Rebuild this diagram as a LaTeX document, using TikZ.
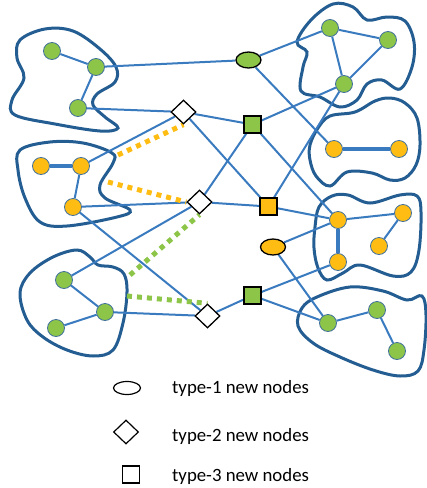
\documentclass[tikz,border=0pt]{standalone}
\usepackage{fontspec}
\setmainfont{Carlito}
\usetikzlibrary{shapes.geometric, backgrounds}
\definecolor{edgeblue}{HTML}{3A7BBF}
\definecolor{blobblue}{HTML}{245D92}
\definecolor{nodeline}{HTML}{41719C}
\definecolor{ngreen}{HTML}{8DC549}
\definecolor{norange}{HTML}{FFBD14}
\begin{document}
\begin{tikzpicture}[x=1pt, y=-1pt,
	vtx/.style = {circle, draw=nodeline, line width=0.8pt, minimum size=17pt, inner sep=0pt},
	gv/.style = {vtx, fill=ngreen},
	ov/.style = {vtx, fill=norange},
	oval/.style = {ellipse, draw=black, line width=1.3pt, minimum width=25pt, minimum height=16pt, inner sep=0pt},
	dia/.style = {diamond, draw=black, fill=white, line width=1.3pt, minimum width=25pt, minimum height=24pt, inner sep=0pt},
	sqr/.style = {rectangle, draw=black, line width=1.3pt, minimum size=17pt, inner sep=0pt},
	edge/.style = {draw=edgeblue, line width=2pt},
	bigedge/.style = {draw=edgeblue, line width=4pt},
	blob/.style = {draw=blobblue, line width=3pt},
	odots/.style = {draw=norange, line width=5pt, dash pattern=on 5pt off 5pt},
	gdots/.style = {draw=ngreen, line width=5pt, dash pattern=on 5pt off 5pt},
	legtext/.style = {anchor=base west, inner sep=0pt, font=\fontsize{18.8}{21}\selectfont}]
	\useasboundingbox (0,0) rectangle (427,488);

	% original nodes
	\node[gv] (a1) at (52,51) {};
	\node[gv] (a2) at (96,67) {};
	\node[gv] (a3) at (78,108) {};
	\node[ov] (b1) at (41,166) {};
	\node[ov] (b2) at (81,166) {};
	\node[ov] (b3) at (73,207) {};
	\node[gv] (c1) at (64,280) {};
	\node[gv] (c2) at (105,312) {};
	\node[gv] (c3) at (56,328) {};
	\node[gv] (d1) at (330,28) {};
	\node[gv] (d2) at (388,40) {};
	\node[gv] (d3) at (344,84) {};
	\node[ov] (e1) at (334,149) {};
	\node[ov] (e2) at (399,149) {};
	\node[ov] (f1) at (338,220) {};
	\node[ov] (f2) at (403,213) {};
	\node[ov] (f3) at (379,246) {};
	\node[ov] (f4) at (338,262) {};
	\node[gv] (g1) at (328,323) {};
	\node[gv] (g2) at (377,310) {};
	\node[gv] (g3) at (397,351) {};

	% new nodes
	\node[oval, fill=ngreen] (el1) at (248.5,60) {};
	\node[oval, fill=norange] (el2) at (273,247) {};
	\node[dia] (dm1) at (183.5,112) {};
	\node[dia] (dm2) at (199.5,202) {};
	\node[dia] (dm3) at (207.5,316) {};
	\node[sqr, fill=ngreen] (sq1) at (252.5,124.5) {};
	\node[sqr, fill=norange] (sq2) at (268.5,206.5) {};
	\node[sqr, fill=ngreen] (sq3) at (252.5,295.5) {};

	% blob ends of dotted links
	\coordinate (ob1) at (118,155);
	\coordinate (ob2) at (108,182);
	\coordinate (gb1) at (130,275);
	\coordinate (gb2) at (127,296);

	\begin{scope}[on background layer]
	% community outlines
	\draw[blob] plot[smooth cycle, tension=0.6] coordinates {(20,40) (45,29) (73,31) (100,49) (116,67) (115,82) (97,94) (93,105) (105,117) (118,128) (100,131) (55,124) (15,115) (12,100) (24,78) (17,58)};
	\draw[blob] plot[smooth cycle, tension=0.6] coordinates {(20,150) (50,142) (83,143) (112,153) (113,163) (100,185) (105,198) (130,210) (117,217) (67,226) (40,222) (25,198) (18,170)};
	\draw[blob] plot[smooth cycle, tension=0.6] coordinates {(30,273) (53,257) (77,250) (90,257) (98,265) (113,267) (124,274) (127,292) (123,323) (113,350) (93,356) (67,350) (43,337) (27,320) (20,293)};
	\draw[blob] plot[smooth cycle, tension=0.6] coordinates {(297,42) (311,20) (333,4) (353,7) (367,20) (387,17) (405,21) (414,42) (412,67) (400,89) (382,80) (367,84) (357,100) (340,107) (320,97) (301,91) (303,67) (307,52)};
	\draw[blob] plot[smooth cycle, tension=0.6] coordinates {(310,145) (318,128) (330,116) (355,112) (375,101) (390,98) (405,103) (417,118) (420,145) (416,165) (405,178) (390,180) (372,173) (347,172) (330,186) (316,176) (310,160)};
	\draw[blob] plot[smooth cycle, tension=0.6] coordinates {(315,227) (319,207) (332,196) (348,195) (370,203) (400,195) (417,196) (421,212) (419,250) (411,272) (393,276) (360,265) (343,273) (327,280) (318,268) (314,248)};
	\draw[blob] plot[smooth cycle, tension=0.6] coordinates {(298,326) (302,308) (317,297) (350,287) (383,291) (407,300) (422,296) (426,315) (424,350) (418,371) (400,376) (373,370) (340,357) (313,343)};

	% links
	\foreach \u/\v in {a1/a2, a2/a3, a2/el1, a3/dm1, el1/d1, el1/e1, d1/d2, d1/d3, d2/d3,
		dm1/sq1, dm1/b2, dm1/sq2, sq1/d3, sq1/dm2, sq1/f1, sq2/d3, dm2/sq2, sq2/f1,
		b2/b3, b3/dm2, b3/dm3, dm2/c1, c1/c2, c2/c3, c2/dm3, dm3/sq3, sq3/f4, sq3/g1,
		el2/f1, el2/g1, f1/f2, f2/f3, g1/g2, g2/g3}
		\draw[edge] (\u) -- (\v);
	\draw[bigedge] (b1) -- (b2);
	\draw[bigedge] (e1) -- (e2);
	\draw[bigedge] (f1) -- (f4);

	\draw[odots] (ob1) -- (dm1.south);
	\draw[odots] (ob2) -- (dm2.west);
	\draw[gdots] (gb1) -- (dm2.south);
	\draw[gdots] (gb2) -- (dm3.north);
	\end{scope}

	% legend
	\node[oval, fill=white, minimum width=27pt, minimum height=13pt, line width=1.2pt] (lg1) at (127,388) {};
	\node[dia, line width=1.2pt] (lg2) at (126,432) {};
	\node[sqr, fill=white, line width=1.2pt] (lg3) at (131,474.5) {};
	\node[legtext] (lt1) at (172,393.5) {type-1 new nodes};
	\node[legtext] (lt2) at (172,441) {type-2 new nodes};
	\node[legtext] (lt3) at (172,481) {type-3 new nodes};
\end{tikzpicture}
\end{document}
